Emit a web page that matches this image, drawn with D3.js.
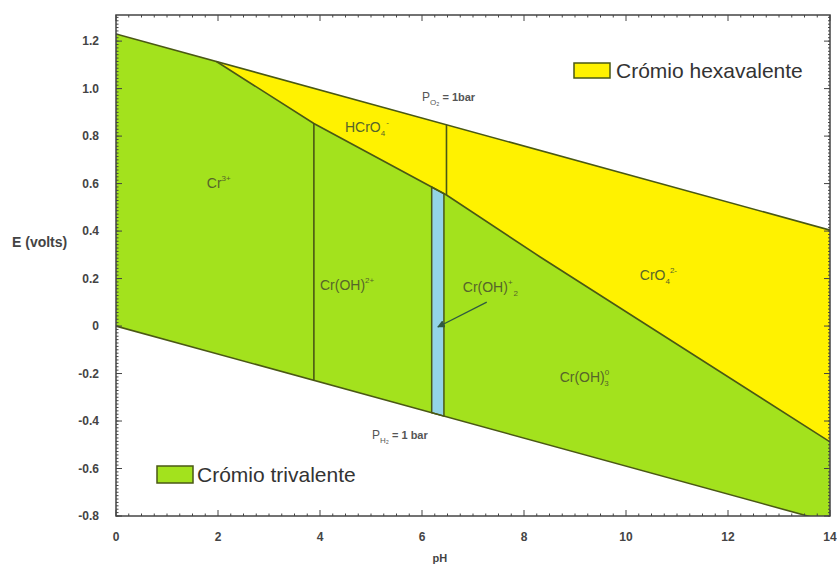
<!DOCTYPE html>
<html><head><meta charset="utf-8">
<script src="https://cdn.jsdelivr.net/npm/d3@7"></script>
<style>body{margin:0;background:#fff} svg{display:block;font-family:"Liberation Sans",Arial,sans-serif}</style>
</head><body><svg id="c" width="837" height="567"></svg>
<script>
// ---- data ----
const xTicks = [0, 2, 4, 6, 8, 10, 12, 14];
const yTicks = [-0.8, -0.6, -0.4, -0.2, 0, 0.2, 0.4, 0.6, 0.8, 1.0, 1.2];
const yTickLabels = ["-0.8", "-0.6", "-0.4", "-0.2", "0", "0.2", "0.4", "0.6", "0.8", "1.0", "1.2"];
const o2Line = [[0, 1.23], [14, 0.404]];          // P_O2 = 1 bar
const h2Line = [[0, 0], [14, -0.826]];            // P_H2 = 1 bar
const boundary = [[1.97, 1.114], [3.88, 0.853], [6.48, 0.552], [8.31, 0.292], [14, -0.488]]; // Cr(III)/Cr(VI)
const verticalTrivalent = 3.88;   // Cr3+ / Cr(OH)2+
const verticalHexavalent = 6.48;  // HCrO4- / CrO4 2-
const blueBand = [6.19, 6.43];    // Cr(OH)2+ domain
const legendLabels = ["Crómio hexavalente", "Crómio trivalente"];

// ---- layout ----
const svg = d3.select("#c");
const L = 116, R = 830, T = 15, B = 516;
const x = d3.scaleLinear().domain([0, 14]).range([L, R]);
const y = d3.scaleLinear().domain([-0.8, 1.31]).range([B, T]);

const lineColor = "#4a5814";
const green = "#a3e21d", yellow = "#fff200", blue = "#93d4e6";

function interp(poly, px) {
  for (let i = 0; i < poly.length - 1; i++) {
    const a = poly[i], b = poly[i + 1];
    if (px >= a[0] && px <= b[0]) return a[1] + (b[1] - a[1]) * (px - a[0]) / (b[0] - a[0]);
  }
  return poly[poly.length - 1][1];
}

const defs = svg.append("defs");
defs.append("clipPath").attr("id", "plot")
  .append("rect").attr("x", L).attr("y", T).attr("width", R - L).attr("height", B - T);

const g = svg.append("g").attr("clip-path", "url(#plot)");
const line = d3.line().x(d => x(d[0])).y(d => y(d[1]));

// regions
const greenPoly = [o2Line[0], ...boundary, h2Line[1], h2Line[0]];
const yellowPoly = [boundary[0], o2Line[1], ...boundary.slice().reverse()];
const bluePoly = [
  [blueBand[0], interp(h2Line, blueBand[0])], [blueBand[0], interp(boundary, blueBand[0])],
  [blueBand[1], interp(boundary, blueBand[1])], [blueBand[1], interp(h2Line, blueBand[1])]
];
g.append("path").attr("d", line(greenPoly) + "Z").attr("fill", green);
g.append("path").attr("d", line(yellowPoly) + "Z").attr("fill", yellow);
g.append("path").attr("d", line(bluePoly) + "Z").attr("fill", blue).attr("stroke", lineColor).attr("stroke-width", 1.5);

// lines
const stroke = p => g.append("path").attr("d", line(p)).attr("fill", "none").attr("stroke", lineColor).attr("stroke-width", 1.6);
stroke(o2Line);
stroke(h2Line);
stroke(boundary);
stroke([[verticalTrivalent, interp(h2Line, verticalTrivalent)], [verticalTrivalent, interp(boundary, verticalTrivalent)]]);
stroke([[verticalHexavalent, interp(boundary, verticalHexavalent)], [verticalHexavalent, interp(o2Line, verticalHexavalent)]]);

// frame and ticks
const axC = "#444";
svg.append("rect").attr("x", L).attr("y", T).attr("width", R - L).attr("height", B - T)
  .attr("fill", "none").attr("stroke", axC).attr("stroke-width", 1.5);
const tk = svg.append("g").attr("stroke", axC).attr("stroke-width", 1);
d3.range(0, 14.001, 0.25).forEach(v => {
  const major = Math.abs(v / 2 - Math.round(v / 2)) < 1e-6;
  tk.append("line").attr("x1", x(v)).attr("x2", x(v)).attr("y1", B).attr("y2", B - (major ? 6 : 2.5));
  tk.append("line").attr("x1", x(v)).attr("x2", x(v)).attr("y1", T).attr("y2", T + (major ? 6 : 2.5));
});
d3.range(-0.8, 1.31, 0.2 / 14).forEach(v => {
  tk.append("line").attr("x1", L).attr("x2", L + 2.5).attr("y1", y(v)).attr("y2", y(v));
  tk.append("line").attr("x1", R).attr("x2", R - 2).attr("y1", y(v)).attr("y2", y(v));
});
yTicks.forEach(v => {
  tk.append("line").attr("x1", L).attr("x2", L + 6).attr("y1", y(v)).attr("y2", y(v));
  tk.append("line").attr("x1", R).attr("x2", R - 6).attr("y1", y(v)).attr("y2", y(v));
});

const lab = svg.append("g").attr("fill", "#444").attr("font-weight", "bold").attr("font-size", 12);
xTicks.forEach(v => lab.append("text").attr("x", x(v)).attr("y", B + 25).attr("text-anchor", "middle").text(v));
yTicks.forEach((v, i) => lab.append("text").attr("x", 99).attr("y", y(v) + 4).attr("text-anchor", "end").text(yTickLabels[i]));
lab.append("text").attr("x", 12).attr("y", 247).attr("font-size", 14).text("E (volts)");
lab.append("text").attr("x", x(6.35)).attr("y", 562).attr("font-size", 11).attr("text-anchor", "middle").text("pH");

// species labels
const sp = svg.append("g").attr("fill", "#56652a").attr("font-size", 14);
function chem(px, py, parts) {
  const t = sp.append("text").attr("x", x(px)).attr("y", y(py));
  parts.forEach(p => {
    const s = t.append("tspan").text(p[0]);
    if (p[2] !== undefined) s.attr("dy", p[2]).attr("font-size", 8);
    if (p[3] !== undefined) s.attr("dx", p[3]);
  });
}
chem(1.78, 0.58, [["Cr"], ["3+", "sup", -7]]);
chem(4.49, 0.817, [["HCrO"], ["4", "sub", 4], ["-", "sup", -11, 1]]);
chem(4.0, 0.15, [["Cr(OH)"], ["2+", "sup", -7]]);
chem(6.8, 0.143, [["Cr(OH)"], ["+", "sup", -7], ["2", "sub", 11, 1]]);
chem(10.27, 0.194, [["CrO"], ["4", "sub", 4], ["2-", "sup", -11]]);
chem(8.7, -0.236, [["Cr(OH)"], ["0", "sup", -7], ["3", "sub", 11, -5]]);

// arrow
defs.append("marker").attr("id", "ah").attr("viewBox", "0 0 10 10").attr("refX", 9).attr("refY", 5)
  .attr("markerWidth", 6).attr("markerHeight", 6).attr("orient", "auto")
  .append("path").attr("d", "M0,0 L10,5 L0,10 Z").attr("fill", "#2f5a40");
svg.append("line").attr("x1", x(7.27)).attr("y1", y(0.101)).attr("x2", x(6.31)).attr("y2", y(-0.004))
  .attr("stroke", "#2f5a40").attr("stroke-width", 1.3).attr("marker-end", "url(#ah)");

// pressure labels
const pl = svg.append("g").attr("fill", "#555").attr("font-size", 12);
pl.append("text").attr("x", x(6.0)).attr("y", y(0.947))
  .call(t => { t.append("tspan").text("P"); t.append("tspan").attr("font-size", 8).attr("dy", 4).text("O₂");
               t.append("tspan").attr("dy", -4).attr("font-size", 11).attr("font-weight", "bold").text(" = 1bar"); });
pl.append("text").attr("x", x(5.02)).attr("y", y(-0.476))
  .call(t => { t.append("tspan").text("P"); t.append("tspan").attr("font-size", 8).attr("dy", 4).text("H₂");
               t.append("tspan").attr("dy", -4).attr("font-size", 11).attr("font-weight", "bold").text(" = 1 bar"); });

// legends
const leg = svg.append("g").attr("font-size", 21).attr("fill", "#333");
leg.append("rect").attr("x", 574).attr("y", 63).attr("width", 36).attr("height", 15).attr("fill", yellow).attr("stroke", lineColor).attr("stroke-width", 1.5);
leg.append("text").attr("x", 616).attr("y", 78).text(legendLabels[0]);
leg.append("rect").attr("x", 157).attr("y", 466).attr("width", 36).attr("height", 17).attr("fill", green).attr("stroke", lineColor).attr("stroke-width", 1.5);
leg.append("text").attr("x", 197).attr("y", 482).text(legendLabels[1]);
</script></body></html>
